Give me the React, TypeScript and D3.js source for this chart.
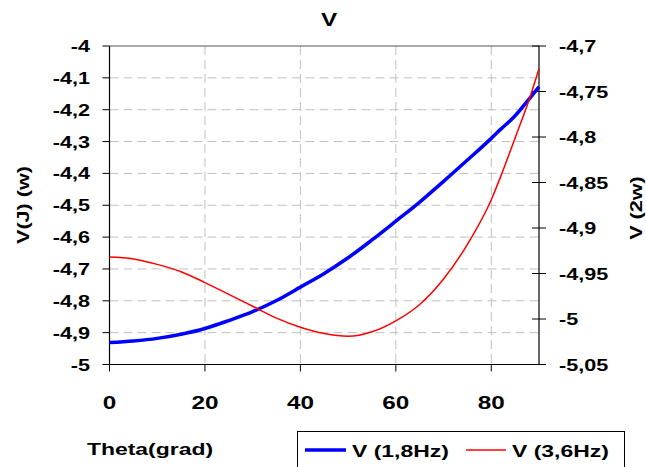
import React from "react";
import * as d3 from "d3";

const theta = [0, 5, 10, 15, 20, 25, 30, 35, 40, 45, 50, 55, 60, 65, 70, 75, 80, 82, 85, 88, 90];
const v18 = [-4.931, -4.926, -4.918, -4.905, -4.887, -4.862, -4.834, -4.799, -4.757, -4.714, -4.665, -4.609, -4.55, -4.49, -4.425, -4.358, -4.29, -4.261, -4.219, -4.165, -4.128];
const v36 = [-4.932, -4.934, -4.94, -4.948, -4.96, -4.973, -4.986, -4.999, -5.009, -5.016, -5.019, -5.014, -5.002, -4.984, -4.956, -4.918, -4.869, -4.843, -4.801, -4.758, -4.725];

const xTicks = [0, 20, 40, 60, 80];
const yLeftTicks = [-5, -4.9, -4.8, -4.7, -4.6, -4.5, -4.4, -4.3, -4.2, -4.1, -4];
const yRightTicks = [-5.05, -5, -4.95, -4.9, -4.85, -4.8, -4.75, -4.7];

const title = "V";
const xTitle = "Theta(grad)";
const yLeftTitle = "V(J) (w)";
const yRightTitle = "V (2w)";
const seriesNames = ["V (1,8Hz)", "V (3,6Hz)"];

const fmt = (v: number) => String(v).replace(".", ",");

export default function App() {
  const W = 646, H = 467;
  const L = 109.5, R = 539, T = 46, B = 364.5;
  const x = d3.scaleLinear().domain([0, 90]).range([L, R]);
  const yL = d3.scaleLinear().domain([-5, -4]).range([B, T]);
  const yR = d3.scaleLinear().domain([-5.05, -4.7]).range([B, T]);
  const sx = 1.35;
  const fs = 16;
  const font = "'Liberation Sans', Arial, sans-serif";

  const lineL = d3.line<number>().x((_, i) => x(theta[i])).y((d) => yL(d)).curve(d3.curveMonotoneX);
  const lineR = d3.line<number>().x((_, i) => x(theta[i])).y((d) => yR(d)).curve(d3.curveMonotoneX);

  const Txt = ({ x: tx, y: ty, anchor, children, size = fs, rotate = 0 }: any) => (
    <g transform={`translate(${tx},${ty}) rotate(${rotate}) scale(${sx},1)`}>
      <text textAnchor={anchor} fontFamily={font} fontWeight="bold" fontSize={size} fill="#000">
        {children}
      </text>
    </g>
  );

  return (
    <svg width={W} height={H} style={{ position: "absolute", left: 0, top: 0, background: "#fff" }}>
      <rect x={0} y={0} width={W} height={H} fill="#fff" />
      {yLeftTicks.slice(1, -1).map((t) => (
        <line key={"gy" + t} x1={L} x2={R} y1={yL(t)} y2={yL(t)} stroke="#c0c0c0" strokeWidth={1} strokeDasharray="9,5" />
      ))}
      {xTicks.slice(1).map((t) => (
        <line key={"gx" + t} x1={x(t)} x2={x(t)} y1={T} y2={B} stroke="#c0c0c0" strokeWidth={1} strokeDasharray="9,5" />
      ))}
      <line x1={L} x2={R} y1={T} y2={T} stroke="#555" strokeWidth={1} />
      <line x1={L} x2={L} y1={T} y2={B} stroke="#000" strokeWidth={1.2} />
      <line x1={R} x2={R} y1={T} y2={B} stroke="#000" strokeWidth={1.2} />
      <line x1={L} x2={R} y1={B} y2={B} stroke="#000" strokeWidth={1.2} />
      {yLeftTicks.map((t) => (
        <g key={"yl" + t}>
          <line x1={L - 7} x2={L} y1={yL(t)} y2={yL(t)} stroke="#000" />
          <Txt x={90} y={yL(t) + 6} anchor="end">{fmt(t)}</Txt>
        </g>
      ))}
      {yRightTicks.map((t) => (
        <g key={"yr" + t}>
          <line x1={R - 7} x2={R + 7} y1={yR(t)} y2={yR(t)} stroke="#000" />
          <Txt x={559} y={yR(t) + 6} anchor="start">{fmt(t)}</Txt>
        </g>
      ))}
      {xTicks.map((t) => (
        <g key={"x" + t}>
          <line x1={x(t)} x2={x(t)} y1={B} y2={B + 7} stroke="#000" />
          <Txt x={x(t)} y={409} anchor="middle" size={18}>{t}</Txt>
        </g>
      ))}
      <path d={lineL(v18) || ""} fill="none" stroke="#0000ff" strokeWidth={3.5} />
      <path d={lineR(v36) || ""} fill="none" stroke="#ff0000" strokeWidth={1.5} />
      <Txt x={329} y={26} anchor="middle" size={18}>{title}</Txt>
      <Txt x={150} y={455} anchor="middle" size={17}>{xTitle}</Txt>
      <Txt x={29} y={205} anchor="middle" rotate={-90}>{yLeftTitle}</Txt>
      <Txt x={642} y={208} anchor="middle" rotate={-90}>{yRightTitle}</Txt>
      <rect x={297.5} y={431.5} width={327} height={45} fill="#fff" stroke="#000" strokeWidth={1} />
      <line x1={305} x2={346} y1={450} y2={450} stroke="#0000ff" strokeWidth={3.5} />
      <Txt x={352} y={457} anchor="start" size={17}>{seriesNames[0]}</Txt>
      <line x1={466} x2={506} y1={450} y2={450} stroke="#ff0000" strokeWidth={1.5} />
      <Txt x={512} y={457} anchor="start" size={17}>{seriesNames[1]}</Txt>
    </svg>
  );
}
